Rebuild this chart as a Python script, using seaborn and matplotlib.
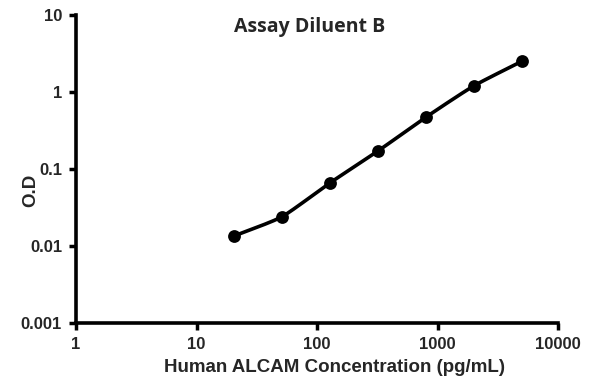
import numpy as np
import pandas as pd
import matplotlib
matplotlib.use("Agg")
import matplotlib.pyplot as plt
import seaborn as sns

# Data
concentration = [20.48, 51.2, 128, 320, 800, 2000, 5000]
od_values = [0.0135, 0.024, 0.066, 0.171, 0.47, 1.2, 2.5]
x_ticks = [1, 10, 100, 1000, 10000]
x_tick_labels = ["1", "10", "100", "1000", "10000"]
y_ticks = [0.001, 0.01, 0.1, 1, 10]
y_tick_labels = ["0.001", "0.01", "0.1", "1", "10"]
title = "Assay Diluent B"
x_label = "Human ALCAM Concentration (pg/mL)"
y_label = "O.D"

df = pd.DataFrame({"conc": concentration, "od": od_values})

sns.set_style("white")
plt.rcParams["font.family"] = ["Liberation Sans", "DejaVu Sans"]

fig = plt.figure(figsize=(5.95, 3.84), dpi=100)
ax = fig.add_axes([76 / 595, 1 - 323 / 384, (558 - 76) / 595, (323 - 15) / 384])
ax.set_xscale("log")
ax.set_yscale("log")

# Smoothed connecting line (Catmull-Rom in log space, derived from the data)
lx = np.log10(df["conc"].to_numpy())
ly = np.log10(df["od"].to_numpy())
px = np.concatenate([[2 * lx[0] - lx[1]], lx, [2 * lx[-1] - lx[-2]]])
py = np.concatenate([[2 * ly[0] - ly[1]], ly, [2 * ly[-1] - ly[-2]]])
sx, sy = [], []
t = np.linspace(0, 1, 30)
for i in range(1, len(px) - 2):
    for arr, out in ((px, sx), (py, sy)):
        p0, p1, p2, p3 = arr[i - 1], arr[i], arr[i + 1], arr[i + 2]
        m1 = (p2 - p0) / 2 * 0.6
        m2 = (p3 - p1) / 2 * 0.6
        h00 = 2 * t**3 - 3 * t**2 + 1
        h10 = t**3 - 2 * t**2 + t
        h01 = -2 * t**3 + 3 * t**2
        h11 = t**3 - t**2
        out.extend(h00 * p1 + h10 * m1 + h01 * p2 + h11 * m2)
smooth = pd.DataFrame({"conc": 10 ** np.array(sx), "od": 10 ** np.array(sy)})
sns.lineplot(data=smooth, x="conc", y="od", ax=ax, color="black", linewidth=2.6,
             sort=False, estimator=None)
sns.scatterplot(data=df, x="conc", y="od", ax=ax, color="black", s=85,
                edgecolor="black", linewidth=0, zorder=5)

ax.set_xlim(1, 10000)
ax.set_ylim(0.001, 10)
ax.set_xticks(x_ticks)
ax.set_xticklabels(x_tick_labels)
ax.set_yticks(y_ticks)
ax.set_yticklabels(y_tick_labels)
ax.minorticks_off()
ax.tick_params(axis="both", which="major", direction="out", length=5, width=2.5,
               color="black", labelsize=12, pad=5, bottom=True, left=True)
for lab in ax.get_xticklabels() + ax.get_yticklabels():
    lab.set_fontweight("bold")

for side in ["top", "right"]:
    ax.spines[side].set_visible(False)
for side in ["left", "bottom"]:
    ax.spines[side].set_color("black")
    ax.spines[side].set_linewidth(2.6)
    ax.spines[side].set_visible(True)

ax.set_xlabel(x_label, fontsize=13.5, fontweight="bold")
ax.xaxis.set_label_coords(335 / 595, 1 - 368 / 384, transform=fig.transFigure)
ax.xaxis.label.set_verticalalignment("center")
ax.set_ylabel(y_label, fontsize=13.5, fontweight="bold")
ax.yaxis.set_label_coords(31 / 595, 1 - 190 / 384, transform=fig.transFigure)
ax.yaxis.label.set_verticalalignment("center")
ax.text(310 / 595, 1 - 27 / 384, title, transform=fig.transFigure, ha="center",
        va="center", fontsize=14, fontweight="bold",
        family=["Open Sans", "DejaVu Sans"])
ax.grid(False)

fig.savefig("out.png", dpi=100, facecolor="white")
